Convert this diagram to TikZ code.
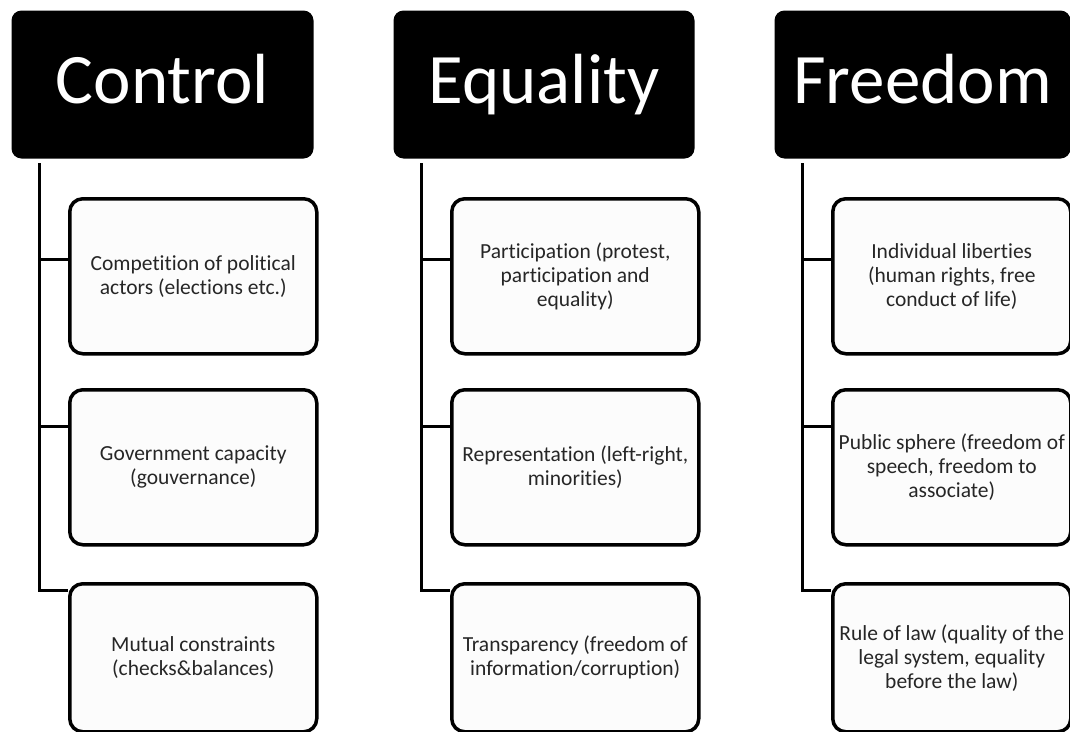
\documentclass[tikz,border=0pt]{standalone}
\usepackage{fontspec}
\setmainfont{Carlito}[Ligatures=NoCommon]
\usetikzlibrary{positioning,calc}

\begin{document}
\begin{tikzpicture}[x=1pt,y=-1pt,line width=3pt,
		head/.style={fill=black,rounded corners=10pt,text=white,inner sep=0pt,minimum height=148pt,text height=47pt,text depth=9pt,anchor=north west,font=\fontsize{71}{80}\selectfont},
		item/.style={draw,line width=3.5pt,fill=gray!2,rounded corners=13pt,inner sep=0pt,anchor=north west,align=center,text=black!85,font=\fontsize{21.5}{24}\selectfont}]
		\def\ya{197}
		\def\yb{388}
		\def\yc{582}
		\useasboundingbox (0,0) rectangle (1070,731);
		%headings
		\node[head,minimum width=302pt] (ctrl) at (10,9) {Control};
		\node[head,minimum width=301pt] (eq) at (392,9) {Equality};
		\node[head,minimum width=296pt] (free) at (773,9) {Freedom};
		%items
		\node[item,minimum width=247pt,minimum height=155pt] (ctrl1) at (68,\ya) {Competition of political\\actors (elections etc.)};
		\node[item,minimum width=247pt,minimum height=155pt] (ctrl2) at (68,\yb) {Government capacity\\(gouvernance)};
		\node[item,minimum width=247pt,minimum height=148pt] (ctrl3) at (68,\yc) {Mutual constraints\\(checks\&balances)};
		\node[item,minimum width=247pt,minimum height=155pt] (eq1) at (450,\ya) {Participation (protest,\\participation and\\equality)};
		\node[item,minimum width=247pt,minimum height=155pt] (eq2) at (450,\yb) {Representation (left-right,\\minorities)};
		\node[item,minimum width=247pt,minimum height=148pt] (eq3) at (450,\yc) {Transparency (freedom of\\information/corruption)};
		\node[item,minimum width=238pt,minimum height=155pt] (free1) at (831,\ya) {Individual liberties\\(human rights, free\\conduct of life)};
		\node[item,minimum width=238pt,minimum height=155pt] (free2) at (831,\yb) {Public sphere (freedom of\\speech, freedom to\\associate)};
		\node[item,minimum width=238pt,minimum height=148pt] (free3) at (831,\yc) {Rule of law (quality of the\\legal system, equality\\before the law)};
		%connectors
		\foreach \col in {ctrl,eq,free}{
			\coordinate (\col-top) at ([xshift=29pt,yshift=-3pt]\col.south west);
			\coordinate (\col-a) at ([yshift=-62pt]\col1.north west);
			\coordinate (\col-b) at ([yshift=-38pt]\col2.north west);
			\coordinate (\col-c) at ([yshift=-8pt]\col3.north west);
			\draw (\col-top) |- (\col-c);
			\draw (\col-top |- \col-a) -- (\col-a);
			\draw (\col-top |- \col-b) -- (\col-b);
		}
\end{tikzpicture}
\end{document}
